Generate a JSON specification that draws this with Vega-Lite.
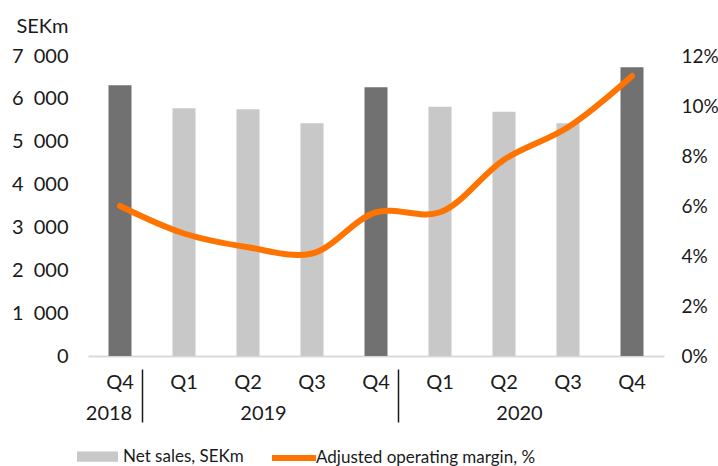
{
  "$schema": "https://vega.github.io/schema/vega-lite/v6.json",
  "width": 576,
  "height": 300,
  "autosize": "none",
  "padding": {"left": 88, "top": 56, "right": 54, "bottom": 110},
  "background": "white",
  "config": {
    "view": {"stroke": null},
    "font": "Lato",
    "axis": {"labelFont": "Lato", "labelFontSize": 20, "labelColor": "#1a1a1a", "titleFont": "Lato", "grid": false},
    "legend": {"labelFont": "Lato", "labelFontSize": 17, "labelColor": "#1a1a1a", "labelLimit": 600}
  },
  "data": {
    "values": [
      {"q": "Q4 2018", "sales": 6320, "margin": 0.060},
      {"q": "Q1 2019", "sales": 5780, "margin": 0.049},
      {"q": "Q2 2019", "sales": 5755, "margin": 0.0435},
      {"q": "Q3 2019", "sales": 5430, "margin": 0.041},
      {"q": "Q4 2019", "sales": 6270, "margin": 0.0575},
      {"q": "Q1 2020", "sales": 5815, "margin": 0.0575},
      {"q": "Q2 2020", "sales": 5700, "margin": 0.0785},
      {"q": "Q3 2020", "sales": 5430, "margin": 0.0915},
      {"q": "Q4 2020", "sales": 6740, "margin": 0.112}
    ]
  },
  "layer": [
    {
      "mark": {"type": "bar"},
      "encoding": {
        "x": {
          "field": "q",
          "type": "ordinal",
          "sort": null,
          "scale": {"paddingInner": 0.64, "paddingOuter": 0.32},
          "axis": {
            "orient": "bottom",
            "title": null,
            "labelAngle": 0,
            "domainColor": "#d9d9d9",
            "domainWidth": 2,
            "ticks": false,
            "labelPadding": 16,
            "labelBaseline": "top",
            "labelExpr": "slice(datum.value, 0, 2)"
          }
        },
        "y": {
          "field": "sales",
          "type": "quantitative",
          "scale": {"domain": [0, 7000]},
          "axis": {
            "values": [0, 1000, 2000, 3000, 4000, 5000, 6000, 7000],
            "labelExpr": "replace(format(datum.value, ','), ',', '\u2002')",
            "domain": false,
            "ticks": false,
            "labelPadding": 20,
            "title": "SEKm",
            "titleAngle": 0,
            "titleAlign": "right",
            "titleBaseline": "middle",
            "titleX": -20,
            "titleY": -30,
            "titleFontSize": 20,
            "titleFontWeight": "normal",
            "titleColor": "#1a1a1a"
          }
        },
        "color": {
          "datum": "Net sales, SEKm",
          "scale": {"range": ["#c8c8c8"]},
          "condition": {"test": "indexof(datum.q, 'Q4') === 0", "value": "#717171"},
          "legend": {
            "title": null,
            "orient": "none",
            "legendX": -11,
            "legendY": 380,
            "padding": 0,
            "symbolType": "M-1,-0.25H1V0.25H-1Z",
            "symbolSize": 1681,
            "symbolStrokeWidth": 0,
            "labelOffset": 5
          }
        }
      }
    },
    {
      "mark": {"type": "line", "interpolate": "catmull-rom", "strokeWidth": 6, "strokeCap": "round"},
      "encoding": {
        "x": {
          "field": "q",
          "type": "ordinal",
          "sort": null,
          "axis": {
            "orient": "bottom",
            "offset": 13,
            "title": null,
            "labelAngle": 0,
            "domain": false,
            "ticks": true,
            "bandPosition": 0,
            "tickOffset": -30.5,
            "tickSize": 53,
            "tickWidth": 1.5,
            "tickColor": "#1a1a1a",
            "tickOpacity": {"condition": {"test": "datum.value === 'Q1 2019' || datum.value === 'Q1 2020'", "value": 1}, "value": 0},
            "labelOffset": {"condition": {"test": "datum.value === 'Q4 2018'", "value": 19}, "value": 45.5},
            "labelPadding": -19,
            "labelBaseline": "top",
            "labelExpr": "datum.value === 'Q4 2018' ? '2018' : datum.value === 'Q2 2019' ? '2019' : datum.value === 'Q2 2020' ? '2020' : ''"
          }
        },
        "y": {
          "field": "margin",
          "type": "quantitative",
          "scale": {"domain": [0, 0.12]},
          "axis": {
            "orient": "right",
            "values": [0, 0.02, 0.04, 0.06, 0.08, 0.1, 0.12],
            "format": ".0%",
            "domain": false,
            "ticks": false,
            "labelPadding": 17,
            "labelFontSize": 19,
            "title": null
          }
        },
        "stroke": {
          "datum": "Adjusted operating margin, %",
          "scale": {"range": ["#ff7300"]},
          "legend": {
            "title": null,
            "orient": "none",
            "legendX": 181,
            "legendY": 377,
            "padding": 0,
            "symbolType": "stroke",
            "symbolSize": 1936,
            "symbolStrokeWidth": 6,
            "labelOffset": -3
          }
        }
      }
    }
  ],
  "resolve": {"scale": {"y": "independent"}, "axis": {"x": "independent"}}
}
